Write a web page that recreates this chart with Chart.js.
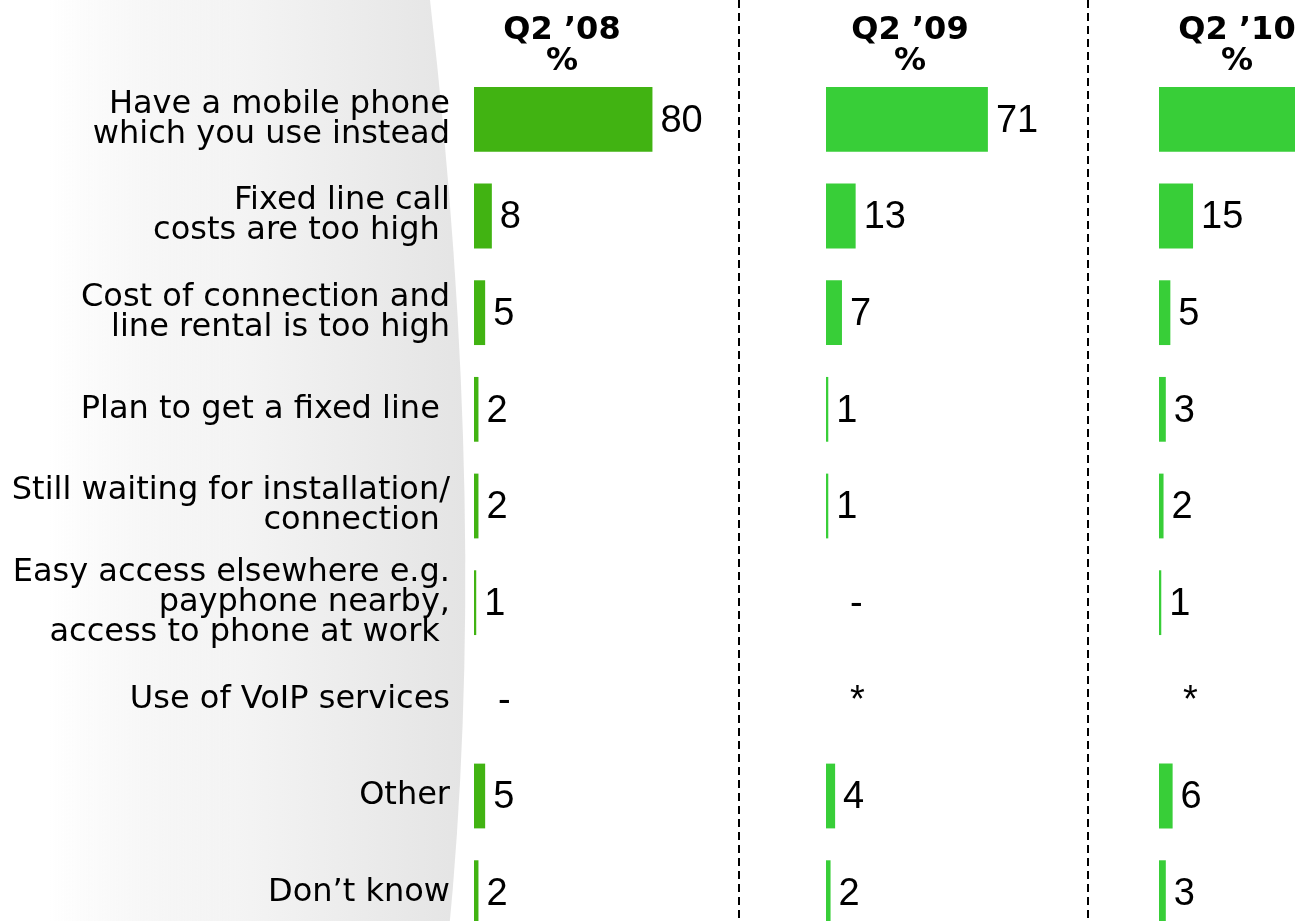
<!DOCTYPE html>
<html>
<head>
<title>Reasons for not having a fixed line</title>
<script src="https://cdn.jsdelivr.net/npm/chart.js"></script>
<style>
  body { margin: 0; overflow: hidden; background: #fff; }
  #wrap { position: relative; width: 1295px; height: 921px; overflow: hidden; }
  canvas { position: absolute; top: 0; }
</style>
</head>
<body>
<div id="wrap">
  <canvas id="c08" width="739" height="941" style="left:0"></canvas>
  <canvas id="c09" width="350" height="941" style="left:738px"></canvas>
  <canvas id="c10" width="208" height="941" style="left:1087px"></canvas>
</div>
<script>
const categories = [
  ['Have a mobile phone', 'which you use instead'],
  ['Fixed line call', 'costs are too high '],
  ['Cost of connection and', 'line rental is too high'],
  'Plan to get a fixed line ',
  ['Still waiting for installation/', 'connection '],
  ['Easy access elsewhere e.g.', 'payphone nearby,', 'access to phone at work '],
  'Use of VoIP services',
  'Other',
  'Don\u2019t know'
];
const periods = ['Q2 \u201908', 'Q2 \u201909', 'Q2 \u201910'];
const q208 = [80, 8, 5, 2, 2, 1, null, 5, 2];
const q209 = [71, 13, 7, 1, 1, null, null, 4, 2];
const q210 = [73, 15, 5, 3, 2, 1, null, 6, 3];
// what gets printed where there is no number
const notes08 = [null, null, null, null, null, null, '-', null, null];
const notes09 = [null, null, null, null, null, '-', '*', null, null];
const notes10 = [null, null, null, null, null, null, '*', null, null];

const labelFont = '"DejaVu Sans", Verdana, sans-serif';
const numFont = '"Liberation Sans", Arial, sans-serif';

// grey swoosh behind the category labels
const swoosh = {
  id: 'swoosh',
  beforeDraw(chart) {
    const ctx = chart.ctx, h = chart.height;
    const g = ctx.createLinearGradient(50, 0, 465, 0);
    g.addColorStop(0, 'rgba(235,235,235,0)');
    g.addColorStop(0.45, '#f4f4f4');
    g.addColorStop(1, '#e4e4e4');
    ctx.save();
    ctx.beginPath();
    ctx.moveTo(0, 0);
    ctx.lineTo(430, 0);
    ctx.quadraticCurveTo(490, 520, 448, h);
    ctx.lineTo(0, h);
    ctx.closePath();
    ctx.fillStyle = g;
    ctx.fill();
    ctx.restore();
  }
};

// dashed divider on the left edge of a panel
const divider = {
  id: 'divider',
  beforeDraw(chart) {
    const ctx = chart.ctx;
    ctx.save();
    ctx.strokeStyle = '#000';
    ctx.lineWidth = 2;
    ctx.setLineDash([8, 5]);
    ctx.beginPath();
    ctx.moveTo(1, 0);
    ctx.lineTo(1, chart.height);
    ctx.stroke();
    ctx.restore();
  }
};

const header = {
  id: 'header',
  afterDraw(chart, args, opts) {
    const ctx = chart.ctx;
    const cx = chart.chartArea.left + opts.offset;
    ctx.save();
    ctx.font = 'bold 32px ' + labelFont;
    ctx.textAlign = 'center';
    ctx.fillStyle = '#000';
    ctx.fillText(opts.text, cx, 39);
    ctx.fillText('%', cx, 70);
    ctx.restore();
  }
};

const valueLabels = {
  id: 'valueLabels',
  afterDatasetsDraw(chart, args, opts) {
    const ctx = chart.ctx, x = chart.scales.x, y = chart.scales.y;
    const data = chart.data.datasets[0].data;
    ctx.save();
    ctx.font = '38px ' + numFont;
    ctx.fillStyle = '#000';
    ctx.textBaseline = 'middle';
    data.forEach((v, i) => {
      const text = v === null ? opts.notes[i] : String(v);
      if (!text) return;
      const px = v === null ? x.getPixelForValue(0) + 24 : x.getPixelForValue(v) + 8;
      ctx.fillText(text, px, y.getPixelForValue(i) + 2);
    });
    ctx.restore();
  }
};

function makeChart(id, title, values, notes, color, cfg) {
  const plugins = [header, valueLabels];
  if (cfg.withLabels) plugins.unshift(swoosh); else plugins.unshift(divider);
  return new Chart(document.getElementById(id), {
    type: 'bar',
    data: {
      labels: categories,
      datasets: [{
        data: values,
        backgroundColor: color,
        borderWidth: 0,
        categoryPercentage: 1,
        barPercentage: 0.67
      }]
    },
    options: {
      indexAxis: 'y',
      responsive: false,
      animation: false,
      events: [],
      layout: { padding: { top: 71, left: cfg.padLeft, right: 0, bottom: 0 } },
      scales: {
        x: { display: false, min: 0, max: cfg.max },
        y: cfg.withLabels ? {
          grid: { display: false, drawTicks: false },
          border: { display: false },
          ticks: {
            color: '#000',
            padding: 24,
            autoSkip: false,
            font: { family: labelFont, size: 32, lineHeight: 0.93 }
          },
          afterFit(scale) {
            scale.width = 474;
            scale.paddingTop = 0;
            scale.paddingBottom = 0;
          }
        } : { display: false }
      },
      plugins: {
        legend: { display: false },
        tooltip: { enabled: false },
        header: { text: title, offset: cfg.headerOffset },
        valueLabels: { notes: notes }
      }
    },
    plugins: plugins
  });
}

makeChart('c08', periods[0], q208, notes08, '#41b312',
  { withLabels: true, padLeft: 0, max: 118.8, headerOffset: 88 });
makeChart('c09', periods[1], q209, notes09, '#38ce38',
  { withLabels: false, padLeft: 88, max: 114.9, headerOffset: 84 });
makeChart('c10', periods[2], q210, notes10, '#38ce38',
  { withLabels: false, padLeft: 72, max: 59.9, headerOffset: 78 });
</script>
</body>
</html>
